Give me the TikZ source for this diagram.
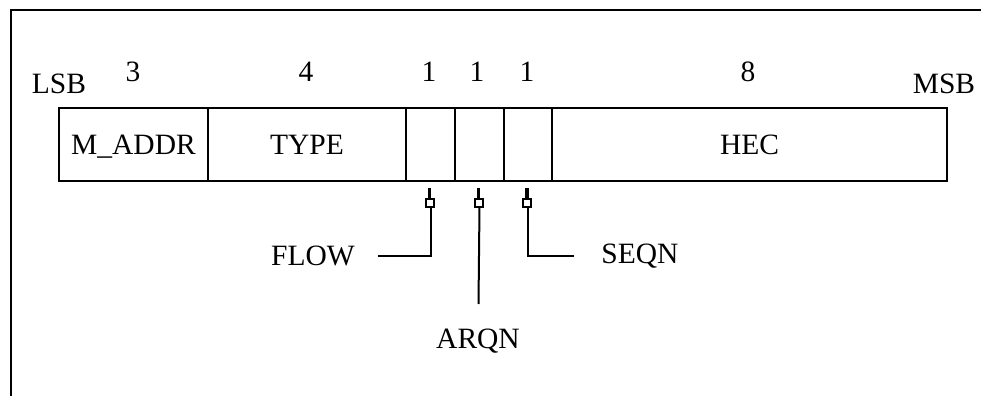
\documentclass[tikz,border=0pt]{standalone}
\usepackage{fontspec}
\setmainfont{Liberation Serif}
\usetikzlibrary{calc}
\begin{document}
\begin{tikzpicture}[x=0.5pt,y=-0.5pt,
  font=\fontsize{14.75}{17}\selectfont,
  field/.style={draw, line width=1pt, minimum height=36.5pt, inner sep=0pt, anchor=north west},
  lbl/.style={inner sep=0pt},
  conn/.style={line width=1pt},
  stub/.style={line width=1.6pt},
  markbox/.style={line width=1pt},
  frame/.style={line width=1.25pt}]
\useasboundingbox (0,0) rectangle (981,396);
\clip (0,0) rectangle (981,396);
% outer frame (right and bottom lie outside the picture)
\draw[frame] (11,600) -- (11,10) -- (1200,10);
% fields
\node[field, minimum width=74.5pt, text depth=0pt] (maddr) at (58,107) {M\_ADDR};
\node[field, minimum width=99pt]   (type)  at (207,107) {TYPE};
\node[field, minimum width=24.5pt] (flowf) at (405,107) {};
\node[field, minimum width=24.5pt] (arqnf) at (454,107) {};
\node[field, minimum width=24pt]   (seqnf) at (503,107) {};
\node[field, minimum width=197.5pt] (hec)  at (551,107) {HEC};
% bit counts
\node[lbl] (lsb) at (59,84) {LSB};
\node[lbl] (msb) at (944,84) {MSB};
\node[lbl] (n1) at (133,72) {3};
\node[lbl] (n2) at (306,72) {4};
\node[lbl] (n3) at (429,72) {1};
\node[lbl] (n4) at (477,72) {1};
\node[lbl] (n5) at (527,72) {1};
\node[lbl] (n6) at (748,72) {8};
% lower labels
\node[lbl] (flow) at (313,256) {FLOW};
\node[lbl] (seqn) at (640,256) {SEQN};
\node[lbl] (arqn) at (478,341) {ARQN};
% marks under the one-bit fields
\foreach \f/\m in {flowf/m1, arqnf/m2, seqnf/m3} {
  \draw[stub] ($(\f.south)+(-1,6)$) -- ++(0,12);
  \draw[markbox] ($(\f.south)+(-5,17)$) rectangle ++(8,8);
  \coordinate (\m) at ($(\f.south)+(0,25)$);
}
\coordinate (arqnend) at (478.5,304);
\draw[conn] (m1) |- ($(flow.east)+(23,0)$);
\draw[conn] (m2) -- (arqnend);
\draw[conn] (m3) |- ($(seqn.west)+(-27,0)$);
\end{tikzpicture}
\end{document}
